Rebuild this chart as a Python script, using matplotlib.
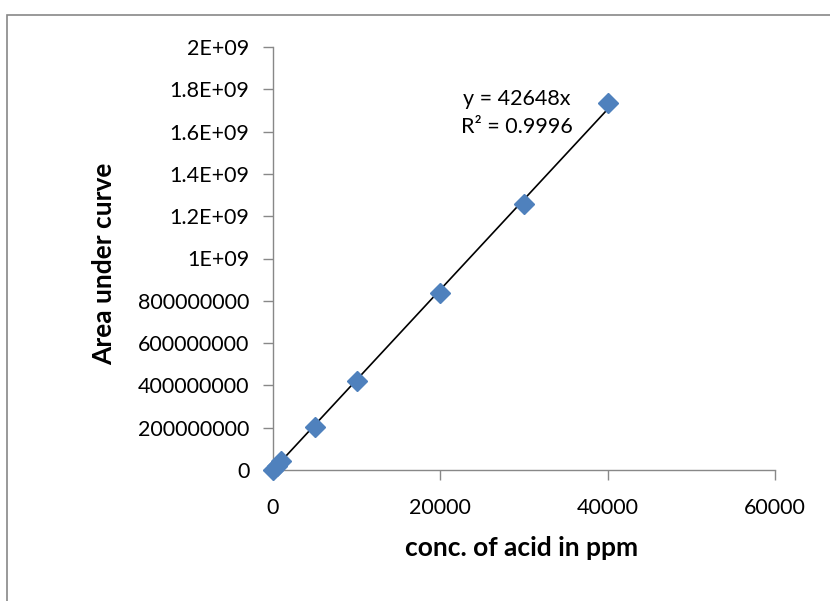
import matplotlib
matplotlib.use("Agg")
import matplotlib.pyplot as plt
from matplotlib.patches import Rectangle
import numpy as np

conc = [0, 500, 1000, 5000, 10000, 20000, 30000, 40000]
area = [0, 20000000, 43000000, 205000000, 421000000, 837000000, 1258000000, 1735000000]
slope = 42648
x_ticks = [0, 20000, 40000, 60000]
y_ticks = [0, 2e8, 4e8, 6e8, 8e8, 1e9, 1.2e9, 1.4e9, 1.6e9, 1.8e9, 2e9]
y_tick_labels = ["0", "200000000", "400000000", "600000000", "800000000",
                 "1E+09", "1.2E+09", "1.4E+09", "1.6E+09", "1.8E+09", "2E+09"]

plt.rcParams['font.family'] = ['Lato', 'DejaVu Sans']

fig = plt.figure(figsize=(8.3, 6.01), dpi=100)
ax = fig.add_axes([273/830, 1-470/601, (775-273)/830, (470-47)/601])

fit_x = np.array([0, 40000])
ax.plot(fit_x, slope*fit_x, color='black', lw=1.2, zorder=2)
ax.plot(conc, area, linestyle='none', marker='D', markersize=10,
        color='#4F81BD', zorder=3, clip_on=False)

ax.set_xlim(0, 60000)
ax.set_ylim(0, 2e9)
ax.set_xticks(x_ticks)
ax.set_xticklabels([str(v) for v in x_ticks])
ax.set_yticks(y_ticks)
ax.set_yticklabels(y_tick_labels)
for s in ['top', 'right']:
    ax.spines[s].set_visible(False)
for s in ['left', 'bottom']:
    ax.spines[s].set_color('#888888')
    ax.spines[s].set_linewidth(1)
ax.tick_params(axis='both', colors='#888888', labelcolor='black',
               labelsize=15.5, length=7, width=1, direction='out')
ax.tick_params(axis='x', pad=13)
ax.tick_params(axis='y', pad=10)

ax.set_xlabel("conc. of acid in ppm", fontsize=19, fontweight='bold', va='center')
ax.set_ylabel("Area under curve", fontsize=19, fontweight='bold', va='center')
ax.xaxis.set_label_coords(0.496, -0.184)
ax.yaxis.set_label_coords(-0.337, 0.487)

ax.text(29163, 1.688e9, "y = 42648x\nR² = 0.9996", ha='center', va='center',
        fontsize=15.5, linespacing=1.45)

fig.patches.append(Rectangle((7/830, -0.02), 1.05, 1-15/601+0.02,
                             transform=fig.transFigure, fill=False,
                             edgecolor='#888888', lw=1.2, clip_on=False))

fig.savefig("out.png", dpi=100)
